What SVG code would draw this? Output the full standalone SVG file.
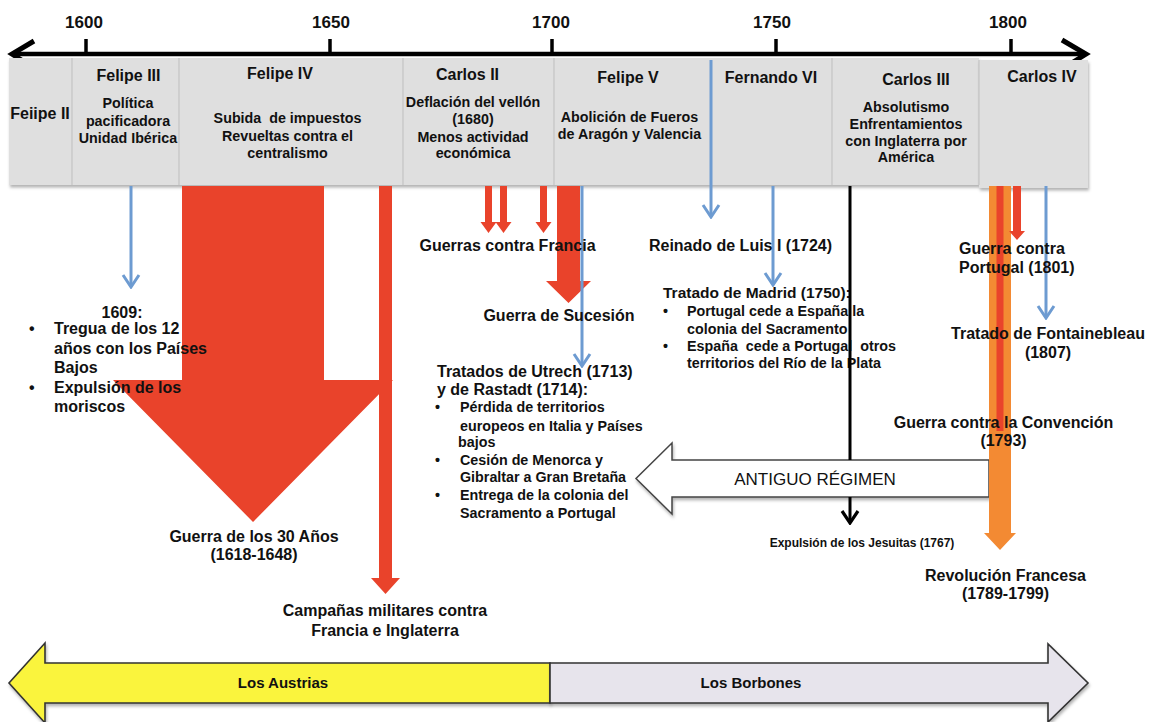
<svg xmlns="http://www.w3.org/2000/svg" width="1153" height="722" viewBox="0 0 1153 722">
<defs>
<style>
text{font-family:"Liberation Sans",Arial,Helvetica,sans-serif;fill:#111;font-weight:bold}
.yr{font-size:17px}
.t16{font-size:16px}
.t15{font-size:15.5px}
.t14{font-size:14.3px}
.t12{font-size:12px}
.c{text-anchor:middle}
.band{fill:#dfdfdf}
.div{stroke:#c4c4c4;stroke-width:1.2}
.blue{stroke:#6d9bd1;stroke-width:3;fill:none}
.red{fill:#e9432b}
.orange{fill:#f38a33}
.blk{stroke:#000;stroke-width:3;fill:none}
.era{stroke:#333;stroke-width:1.6}
</style>
<filter id="sh" x="-5%" y="-10%" width="110%" height="130%"><feDropShadow dx="1" dy="2.5" stdDeviation="1.5" flood-color="#000" flood-opacity="0.3"/></filter>
<marker id="chevB" markerUnits="userSpaceOnUse" viewBox="-14 -10 16 20" refX="0" refY="0" markerWidth="16" markerHeight="20" orient="auto">
<path d="M-12,-8 L0,0 L-12,8" stroke="#6d9bd1" stroke-width="3" fill="none"/>
</marker>
<marker id="chevK" markerUnits="userSpaceOnUse" viewBox="-14 -10 16 20" refX="0" refY="0" markerWidth="16" markerHeight="20" orient="auto">
<path d="M-12,-8 L0,0 L-12,8" stroke="#000" stroke-width="3.2" fill="none"/>
</marker>
</defs>
<rect width="1153" height="722" fill="#fff"/>

<g id="axis">
<line x1="14" y1="54" x2="1084" y2="54" stroke="#000" stroke-width="4.5"/>
<path d="M34,41 L12,54 L34,68 M1062,40 L1086,54 L1062,69" stroke="#000" stroke-width="5" fill="none" stroke-linejoin="miter"/>
<g stroke="#000" stroke-width="3.5">
<line x1="86" y1="39" x2="86" y2="54"/>
<line x1="330" y1="39" x2="330" y2="54"/>
<line x1="552" y1="39" x2="552" y2="54"/>
<line x1="776" y1="39" x2="776" y2="54"/>
<line x1="1011" y1="39" x2="1011" y2="54"/>
</g>
<text class="yr c" x="84" y="28">1600</text>
<text class="yr c" x="331" y="28">1650</text>
<text class="yr c" x="551" y="28">1700</text>
<text class="yr c" x="772" y="28">1750</text>
<text class="yr c" x="1008" y="28">1800</text>
</g>

<g id="band">
<rect class="band" x="9" y="58" width="970" height="127" filter="url(#sh)"/>
<rect class="band" x="979" y="60" width="109" height="128" filter="url(#sh)"/>
<line class="div" x1="72" y1="58" x2="72" y2="185"/>
<line class="div" x1="179" y1="58" x2="179" y2="185"/>
<line class="div" x1="403" y1="58" x2="403" y2="185"/>
<line class="div" x1="554" y1="58" x2="554" y2="185"/>
<line class="div" x1="832" y1="58" x2="832" y2="185"/>
<line class="div" x1="979" y1="60" x2="979" y2="185"/>
</g>

<g id="felipe2"><text class="t16 c" x="40" y="119">Feiipe II</text></g>
<g id="felipe3">
<text class="t16 c" x="128.5" y="81">Felipe III</text>
<text class="t14 c" x="128" y="108">Política</text>
<text class="t14 c" x="128" y="126">pacificadora</text>
<text class="t14 c" x="128" y="143">Unidad Ibérica</text>
</g>
<g id="felipe4">
<text class="t16 c" x="280" y="79">Felipe IV</text>
<text class="t14 c" x="287.5" y="123" xml:space="preserve">Subida  de impuestos</text>
<text class="t14 c" x="287.5" y="141">Revueltas contra el</text>
<text class="t14 c" x="287.5" y="158">centralismo</text>
</g>
<g id="carlos2">
<text class="t16 c" x="467.5" y="80">Carlos II</text>
<text class="t14 c" x="473" y="107">Deflación del vellón</text>
<text class="t14 c" x="473" y="124">(1680)</text>
<text class="t14 c" x="473" y="142">Menos actividad</text>
<text class="t14 c" x="473" y="158">económica</text>
</g>
<g id="felipe5">
<text class="t16 c" x="628" y="83">Felipe V</text>
<text class="t14 c" x="629.5" y="122">Abolición de Fueros</text>
<text class="t14 c" x="629.5" y="139">de Aragón y Valencia</text>
</g>
<g id="fernando6"><text class="t16 c" x="771" y="83">Fernando VI</text></g>
<g id="carlos3">
<text class="t16 c" x="916" y="85">Carlos III</text>
<text class="t14 c" x="906" y="112">Absolutismo</text>
<text class="t14 c" x="906" y="129">Enfrentamientos</text>
<text class="t14 c" x="906" y="146">con Inglaterra por</text>
<text class="t14 c" x="906" y="162">América</text>
</g>
<g id="carlos4"><text class="t16 c" x="1042" y="82">Carlos IV</text></g>

<g id="tratado-madrid">
<text class="t15" x="663" y="298">Tratado de Madrid (1750):</text>
<text class="t14" x="663" y="316">•</text>
<text class="t14" x="687" y="316">Portugal cede a España la</text>
<text class="t14" x="687" y="334">colonia del Sacramento</text>
<text class="t14" x="663" y="351">•</text>
<text class="t14" x="687" y="351" xml:space="preserve">España  cede a Portugal  otros</text>
<text class="t14" x="687" y="368">territorios del Río de la Plata</text>
</g>

<g id="antiguo-regimen">
<path d="M989,460 H672 V443 L636,478.5 L672,514 V497 H989 Z" fill="#fff" stroke="#444" stroke-width="1.5" filter="url(#sh)"/>
<text x="815" y="485" class="c" style="font-size:17px;font-weight:normal">ANTIGUO RÉGIMEN</text>
</g>

<g id="connectors">
<path class="red" d="M182,186 H324 V380 H393 L253,522 L113,380 H182 Z"/>
<path class="red" d="M379,186 H392 V578 H400 L385.5,594 L371,578 H379 Z"/>
<path class="red" d="M485,186 H492 V222 H496.5 L488.5,233 L480.5,222 H485 Z"/>
<path class="red" d="M500,186 H507 V222 H511.5 L503.5,233 L495.5,222 H500 Z"/>
<path class="red" d="M540,186 H547 V222 H551.5 L543.5,233 L535.5,222 H540 Z"/>
<path class="red" d="M557,186 H580 V281 H591 L568.5,303 L546,281 H557 Z"/>
<path class="orange" d="M989,186 H1011 V533 H1016 L1000,550 L984,533 H989 Z"/>
<rect class="red" x="996.5" y="186" width="7" height="245"/>
<path class="red" d="M1013,186 H1021 V231 H1025 L1017,240 L1009,231 H1013 Z"/>
<line class="blue" x1="131" y1="186" x2="131" y2="287" marker-end="url(#chevB)"/>
<line class="blue" x1="711" y1="60" x2="711" y2="217" marker-end="url(#chevB)"/>
<line class="blue" x1="773" y1="186" x2="773" y2="285" marker-end="url(#chevB)"/>
<line class="blue" x1="582" y1="186" x2="582" y2="366" marker-end="url(#chevB)"/>
<line class="blue" x1="1046" y1="186" x2="1046" y2="318" marker-end="url(#chevB)"/>
<line class="blk" x1="850" y1="186" x2="850" y2="460"/>
<line class="blk" x1="850" y1="497" x2="850" y2="523" marker-end="url(#chevK)"/>
</g>

<g id="tregua">
<text class="t16 c" x="122" y="318">1609:</text>
<text class="t16" x="29" y="334">•</text>
<text class="t16" x="54" y="334">Tregua de los 12</text>
<text class="t16" x="54" y="354">años con los Países</text>
<text class="t16" x="54" y="373">Bajos</text>
<text class="t16" x="29" y="393">•</text>
<text class="t16" x="54" y="393">Expulsión de los</text>
<text class="t16" x="54" y="412">moriscos</text>
</g>
<g id="guerra30"><text class="t16 c" x="254" y="542">Guerra de los 30 Años</text><text class="t16 c" x="254" y="560">(1618-1648)</text></g>
<g id="campanas"><text class="t16 c" x="385" y="616">Campañas militares contra</text><text class="t16 c" x="385" y="636">Francia e Inglaterra</text></g>
<g id="guerras-francia"><text class="t16 c" x="507.5" y="251">Guerras contra Francia</text></g>
<g id="sucesion"><text class="t16 c" x="559" y="321">Guerra de Sucesión</text></g>
<g id="utrech">
<text class="t16" x="437" y="377">Tratados de Utrech (1713)</text>
<text class="t16" x="437" y="395">y de Rastadt (1714):</text>
<text class="t14" x="435" y="412">•</text>
<text class="t14" x="460" y="412">Pérdida de territorios</text>
<text class="t14" x="460" y="431">europeos en Italia y Países</text>
<text class="t14" x="458" y="447">bajos</text>
<text class="t14" x="435" y="465">•</text>
<text class="t14" x="460" y="465">Cesión de Menorca y</text>
<text class="t14" x="460" y="482">Gibraltar a Gran Bretaña</text>
<text class="t14" x="435" y="500">•</text>
<text class="t14" x="460" y="500">Entrega de la colonia del</text>
<text class="t14" x="460" y="518">Sacramento a Portugal</text>
</g>
<g id="luis1"><text class="t16 c" x="740.5" y="251">Reinado de Luis I (1724)</text></g>
<g id="jesuitas"><text class="t12 c" x="862" y="547">Expulsión de los Jesuitas (1767)</text></g>
<g id="guerra-portugal"><text class="t16" x="959" y="254">Guerra contra</text><text class="t16" x="959" y="273">Portugal (1801)</text></g>
<g id="fontainebleau"><text class="t16 c" x="1048" y="339">Tratado de Fontainebleau</text><text class="t16 c" x="1048" y="358">(1807)</text></g>
<g id="convencion"><text class="t16 c" x="1003.5" y="428">Guerra contra la Convención</text><text class="t16 c" x="1003.5" y="446">(1793)</text></g>
<g id="revolucion"><text class="t16 c" x="1005.5" y="581">Revolución Francesa</text><text class="t16 c" x="1005.5" y="599">(1789-1799)</text></g>

<g id="austrias">
<path class="era" d="M550,663 H45 V643 L9,683 L45,723 V703 H550 Z" fill="#faf43c" filter="url(#sh)"/>
<text class="c" x="283" y="688" style="font-size:15px">Los Austrias</text>
</g>
<g id="borbones">
<path class="era" d="M550,663 H1048 V644 L1088,683 L1048,722 V703 H550 Z" fill="#e7e4ec" filter="url(#sh)"/>
<text class="c" x="751" y="688" style="font-size:15px">Los Borbones</text>
</g>
</svg>
